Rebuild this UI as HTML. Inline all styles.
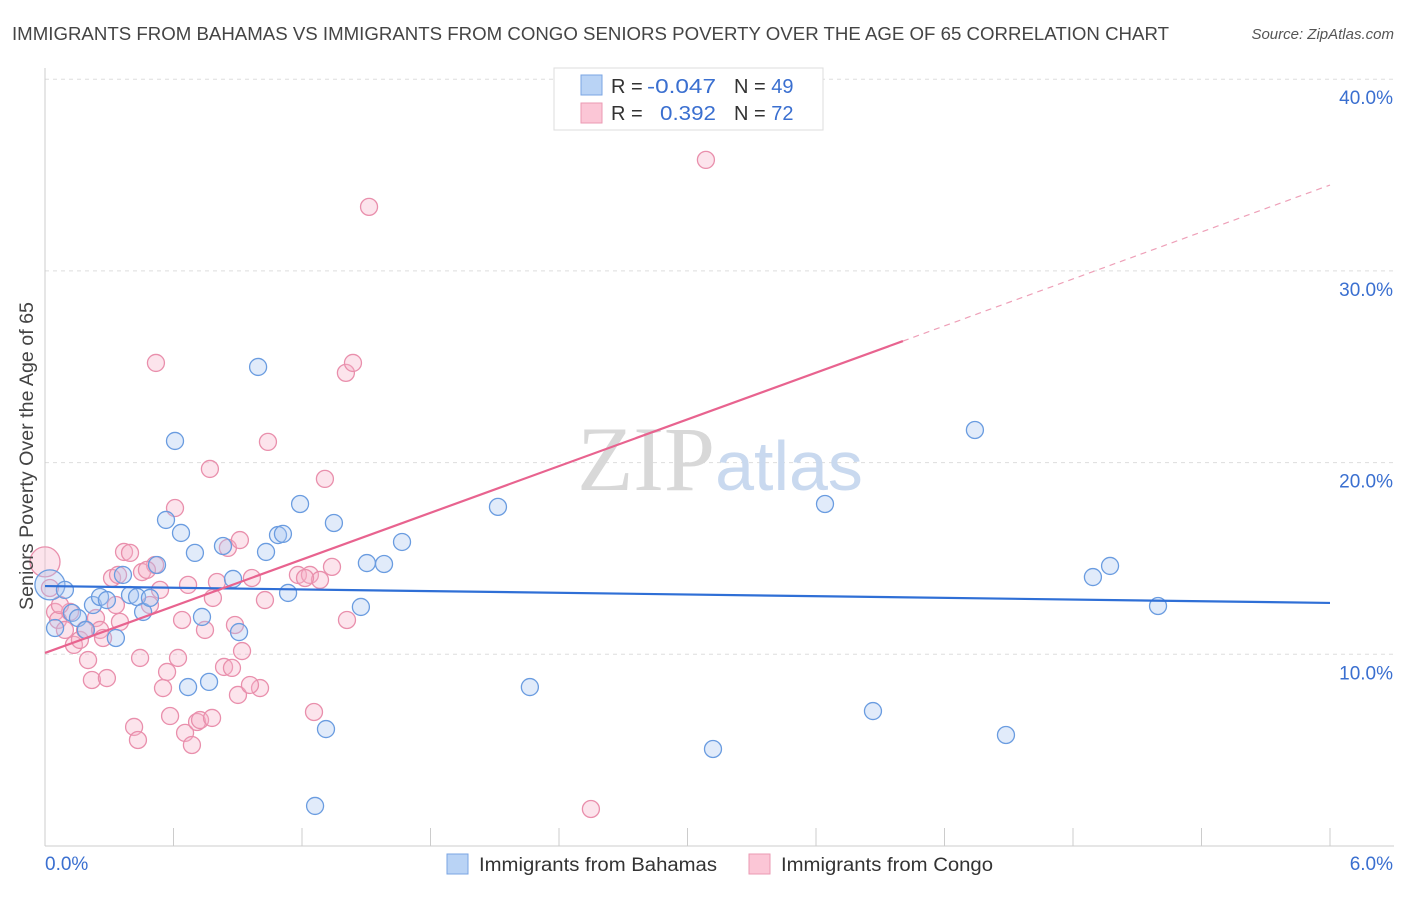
<!DOCTYPE html>
<html><head><meta charset="utf-8">
<style>
body{margin:0;background:#fff;font-family:"Liberation Sans",sans-serif;}
svg text{font-family:"Liberation Sans",sans-serif;}
</style></head>
<body>
<svg id="chart" width="1406" height="892" xmlns="http://www.w3.org/2000/svg">
<text x="12" y="40" font-size="18" fill="#444" textLength="1157" lengthAdjust="spacingAndGlyphs">IMMIGRANTS FROM BAHAMAS VS IMMIGRANTS FROM CONGO SENIORS POVERTY OVER THE AGE OF 65 CORRELATION CHART</text>
<text x="1394" y="39" font-size="15" fill="#555" font-style="italic" text-anchor="end">Source: ZipAtlas.com</text>
<g id="grid"></g>
<text x="720" y="490" font-size="92" fill="#ddd" text-anchor="middle" font-family="Liberation Serif"><tspan font-family="Liberation Serif" fill="#d8d8d8">ZIP</tspan><tspan font-family="Liberation Sans" font-size="70" fill="#c9d9ef">atlas</tspan></text>
<g id="axes"></g>
<g id="pink"></g>
<g id="blue"></g>
<g id="trends"></g>
<text transform="translate(33,456) rotate(-90)" font-size="19" fill="#444" text-anchor="middle" textLength="308" lengthAdjust="spacingAndGlyphs">Seniors Poverty Over the Age of 65</text>
<g>
<rect x="554" y="68" width="269" height="62" fill="#fff" stroke="#ddd"/>
<rect x="581" y="75" width="21" height="20" fill="#b9d3f5" stroke="#7aa5e3"/>
<rect x="581" y="103" width="21" height="20" fill="#fbc6d6" stroke="#eb9ab3"/>
<text x="611" y="93" font-size="20" fill="#333">R =</text>
<text x="647" y="93" font-size="20" fill="#3a6fd0" textLength="69" lengthAdjust="spacingAndGlyphs">-0.047</text>
<text x="734" y="93" font-size="20" fill="#333">N = <tspan fill="#3a6fd0">49</tspan></text>
<text x="611" y="120" font-size="20" fill="#333">R =</text>
<text x="660" y="120" font-size="20" fill="#3a6fd0" textLength="56" lengthAdjust="spacingAndGlyphs">0.392</text>
<text x="734" y="120" font-size="20" fill="#333">N = <tspan fill="#3a6fd0">72</tspan></text>
</g>
<g>
<rect x="447" y="854" width="21" height="20" fill="#b9d3f5" stroke="#7aa5e3"/>
<text x="479" y="871" font-size="19" fill="#333" textLength="238" lengthAdjust="spacingAndGlyphs">Immigrants from Bahamas</text>
<rect x="749" y="854" width="21" height="20" fill="#fbc6d6" stroke="#eb9ab3"/>
<text x="781" y="871" font-size="19" fill="#333" textLength="212" lengthAdjust="spacingAndGlyphs">Immigrants from Congo</text>
</g>
</svg>
<script>
const xTicks=[0,0.6,1.2,1.8,2.4,3.0,3.6,4.2,4.8,5.4,6.0];
const yTicks=[10,20,30,40];
const yTickLabels=["10.0%","20.0%","30.0%","40.0%"];
const xEndLabels=["0.0%","6.0%"];
const blueX=[.023,.047,.093,.126,.154,.191,.224,.257,.289,.331,.364,.397,.430,.458,.490,.523,.565,.607,.635,.668,.700,.733,.766,.831,.878,.906,.995,1.032,1.088,1.111,1.135,1.191,1.261,1.312,1.349,1.475,1.503,1.583,1.667,2.115,2.264,3.119,3.642,3.866,4.342,4.487,4.893,4.973,5.197];
const blueY=[13.62,11.37,13.36,12.16,11.89,11.27,12.57,12.99,12.83,10.85,14.14,13.09,12.99,12.21,12.94,14.66,17.01,21.13,16.33,8.29,15.29,11.95,8.56,15.65,13.93,11.16,24.99,15.34,16.22,16.28,13.20,17.84,2.09,6.10,16.85,12.47,14.76,14.71,15.86,17.69,8.29,5.06,17.84,7.04,21.70,5.79,14.03,14.61,12.52];
const pinkX=[0,.023,.047,.061,.093,.117,.135,.163,.187,.201,.219,.238,.257,.271,.289,.313,.331,.350,.369,.397,.416,.434,.444,.453,.490,.514,.518,.537,.551,.570,.584,.607,.621,.640,.654,.668,.686,.710,.724,.747,.770,.784,.803,.836,.854,.873,.887,.901,.920,.966,1.004,1.027,1.041,1.181,1.237,1.256,1.284,1.307,1.340,1.405,1.410,1.438,1.513,2.549,3.086,.070,.341,.780,.476,.957,1.214,.910];
const pinkY=[14.82,13.46,12.21,11.79,11.27,12.21,10.49,10.75,11.27,9.70,8.66,11.89,11.27,10.85,8.76,13.98,12.57,11.69,15.34,15.29,6.21,5.53,9.81,14.29,12.57,14.66,25.20,13.36,8.24,9.08,6.78,17.63,9.81,11.79,5.90,13.62,5.27,6.47,6.57,11.27,19.67,12.94,13.77,9.34,15.55,9.29,11.53,7.88,10.17,13.98,8.24,12.83,21.08,14.14,14.14,6.99,13.88,19.15,14.56,24.68,11.79,25.20,33.34,1.93,35.79,12.57,14.14,6.68,14.40,8.40,13.98,15.96];
const blueTrend=[[0,13.56],[6,12.68]];
const pinkTrend=[[0,10.07],[4.006,26.34]];
const pinkTrendExt=[[4.006,26.34],[6,34.48]];

const NS="http://www.w3.org/2000/svg";
const sx=v=>45+v/6*1285;
const sy=v=>846-v*19.17;
function mk(tag,attrs,parent){const e=document.createElementNS(NS,tag);for(const k in attrs)e.setAttribute(k,attrs[k]);parent.appendChild(e);return e;}
const grid=document.getElementById('grid'),axes=document.getElementById('axes');
yTicks.forEach((t,i)=>{
  const l=mk('line',{x1:45,x2:1394,y1:sy(t),y2:sy(t),stroke:'#ddd','stroke-dasharray':'4,4'},grid);
  
  
  const tx=mk('text',{x:1393,y:sy(t)+25,'font-size':19,fill:'#3a6fd0','text-anchor':'end'},axes);
  tx.textContent=yTickLabels[i];
  
  
});
const ax=mk('line',{x1:45,x2:1394,y1:846,y2:846,stroke:'#ccc'},axes);


const ay=mk('line',{x1:45,x2:45,y1:68,y2:846,stroke:'#ccc'},axes);


xTicks.forEach(t=>{
  const l=mk('line',{x1:sx(t),x2:sx(t),y1:828,y2:846,stroke:'#ccc'},axes);
  
  
});
const xl0=mk('text',{x:45,y:870,'font-size':19,fill:'#3a6fd0'},axes);xl0.textContent=xEndLabels[0];


const xl1=mk('text',{x:1393,y:870,'font-size':19,fill:'#3a6fd0','text-anchor':'end'},axes);xl1.textContent=xEndLabels[1];


function pts(X,Y,g,fill,stroke,name){
  X.forEach((x,i)=>{
    const c=mk('circle',{cx:sx(x),cy:sy(Y[i]),r:i===0?15:8.5,fill:fill,'fill-opacity':0.35,stroke:stroke,'stroke-width':1.3},g);
    
    
  });
}
pts(pinkX,pinkY,document.getElementById('pink'),'#f7b3c8','#e98fac','congo-point');
pts(blueX,blueY,document.getElementById('blue'),'#a9c6f0','#6a9ce0','bahamas-point');
const tr=document.getElementById('trends');
function line(p,stroke,w,dash,name){
  const l=mk('line',{x1:sx(p[0][0]),y1:sy(p[0][1]),x2:sx(p[1][0]),y2:sy(p[1][1]),stroke:stroke,'stroke-width':w},tr);
  if(dash)l.setAttribute('stroke-dasharray',dash);
  
  
}
line(blueTrend,'#2f6fd6',2.2,null,'bahamas-trend-line');
line(pinkTrend,'#e8638f',2.2,null,'congo-trend-line');
line(pinkTrendExt,'#eea0b8',1.2,'6,5','congo-trend-extension');
</script>
</body></html>
